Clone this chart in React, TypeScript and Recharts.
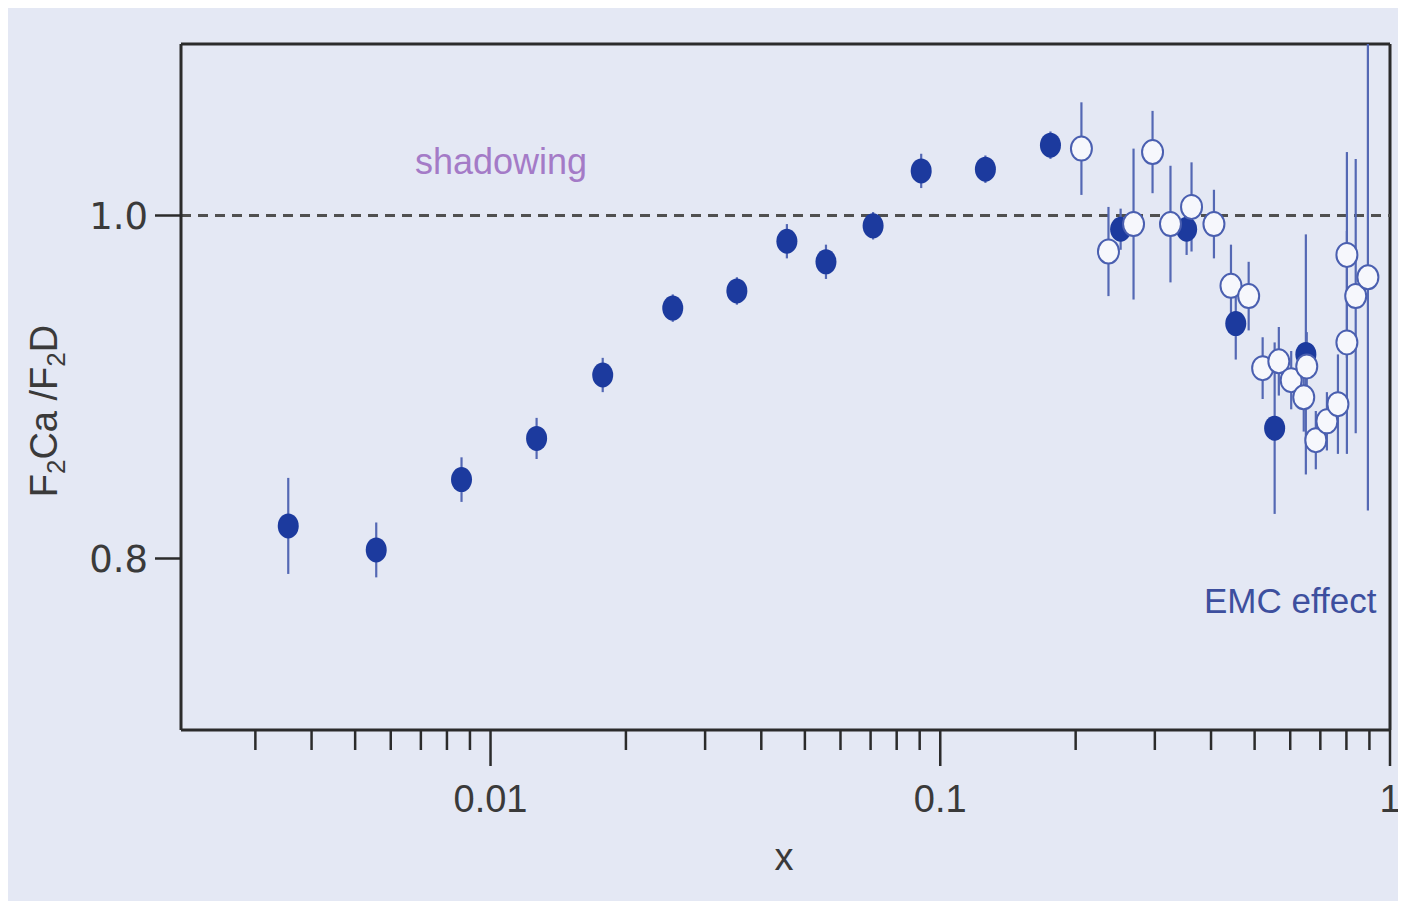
import React from 'react';
import { ComposedChart, Scatter, XAxis, YAxis, ErrorBar, ReferenceLine } from 'recharts';

// filled symbols
const filledX = [0.00355, 0.00557, 0.00862, 0.01266, 0.01776, 0.02542, 0.0353, 0.0456, 0.0557, 0.0709, 0.0907, 0.126, 0.1758, 0.2518, 0.353, 0.454, 0.554, 0.65];
const filledY = [0.819, 0.805, 0.846, 0.870, 0.907, 0.946, 0.956, 0.985, 0.973, 0.994, 1.026, 1.027, 1.041, 0.992, 0.992, 0.937, 0.876, 0.919];
const filledErr = [0.028, 0.016, 0.013, 0.012, 0.010, 0.008, 0.008, 0.010, 0.010, 0.008, 0.010, 0.008, 0.008, 0.012, 0.015, 0.021, 0.050, 0.070];

// open symbols
const openX = [0.206, 0.2366, 0.269, 0.2965, 0.325, 0.362, 0.406, 0.443, 0.485, 0.521, 0.566, 0.603, 0.643, 0.653, 0.684, 0.724, 0.766, 0.802, 0.802, 0.839, 0.893];
const openY = [1.039, 0.979, 0.995, 1.037, 0.995, 1.005, 0.995, 0.959, 0.953, 0.911, 0.915, 0.904, 0.894, 0.912, 0.869, 0.880, 0.890, 0.977, 0.926, 0.953, 0.964];
const openErr = [0.027, 0.026, 0.044, 0.024, 0.034, 0.026, 0.020, 0.024, 0.020, 0.018, 0.020, 0.017, 0.020, 0.020, 0.017, 0.017, 0.029, 0.060, 0.065, 0.080, 0.136];

// axis ticks
const xDomain = [0.00205, 1];
const yDomain = [0.7, 1.1];
const xTicks = [0.003, 0.004, 0.005, 0.006, 0.007, 0.008, 0.009, 0.01, 0.02, 0.03, 0.04, 0.05, 0.06, 0.07, 0.08, 0.09, 0.1, 0.2, 0.3, 0.4, 0.5, 0.6, 0.7, 0.8, 0.9, 1];
const xMajor = [0.01, 0.1, 1];
const xMajorLabels = ['0.01', '0.1', '1'];
const yTicks = [0.8, 1.0];

const filled = filledX.map((x, i) => ({ x, y: filledY[i], err: filledErr[i] }));
const open = openX.map((x, i) => ({ x, y: openY[i], err: openErr[i] }));

const INK = '#2b2b2b';
const FONT = "'Liberation Sans', Arimo, Arial, sans-serif";

function XTick(props: any) {
  const { x, y, payload } = props;
  const k = xMajor.indexOf(payload.value);
  const major = k >= 0;
  return (
    <g>
      <line x1={x} x2={x} y1={y} y2={y + (major ? 36 : 20)} stroke={INK} strokeWidth={2.5} />
      {major && (
        <text x={x} y={y + 82} textAnchor="middle" fontFamily={FONT} fontSize={38} fill="#3a3a3a">
          {xMajorLabels[k]}
        </text>
      )}
    </g>
  );
}

const FilledDot = (p: any) => <ellipse cx={p.cx} cy={p.cy} rx={10.5} ry={12.5} fill="#1c3a9e" />;
const OpenDot = (p: any) => (
  <ellipse cx={p.cx} cy={p.cy} rx={10.5} ry={12} fill="#f6f7fc" stroke="#4a5fb0" strokeWidth={2} />
);

export default function App() {
  return (
    <div style={{ marginLeft: -3, marginTop: -3, width: 1398, height: 896, background: '#e4e8f4' }}>
      <ComposedChart width={1398} height={896} margin={{ top: 39, right: 13, bottom: 41, left: 26 }}>
        <XAxis
          dataKey="x"
          type="number"
          scale="log"
          domain={xDomain}
          allowDataOverflow
          ticks={xTicks}
          tick={<XTick />}
          tickLine={false}
          tickSize={0}
          tickMargin={0}
          height={130}
          interval={0}
          axisLine={{ stroke: INK, strokeWidth: 3 }}
        />
        <YAxis
          dataKey="y"
          type="number"
          domain={yDomain}
          allowDataOverflow
          ticks={yTicks}
          tickFormatter={(v: number) => v.toFixed(1)}
          tick={{ fontFamily: "'DejaVu Sans', sans-serif", fontSize: 37, fill: '#3a3a3a' }}
          tickLine={{ stroke: INK, strokeWidth: 2.5 }}
          tickSize={26}
          tickMargin={7}
          width={150}
          axisLine={{ stroke: INK, strokeWidth: 3 }}
        />
        {/* frame: top and right edges */}
        <ReferenceLine y={yDomain[1]} stroke={INK} strokeWidth={3} />
        <ReferenceLine x={xDomain[1]} stroke={INK} strokeWidth={3} />
        <ReferenceLine y={1} stroke="#505050" strokeWidth={3} strokeDasharray="10 7" />
        <Scatter data={filled} shape={FilledDot} isAnimationActive={false}>
          <ErrorBar dataKey="err" direction="y" width={0} stroke="#5468b4" strokeWidth={2.2} />
        </Scatter>
        <Scatter data={open} shape={OpenDot} isAnimationActive={false}>
          <ErrorBar dataKey="err" direction="y" width={0} stroke="#5468b4" strokeWidth={2.2} />
        </Scatter>
        <text x={410} y={169} fontFamily={FONT} fontSize={36} fill="#a47bc7">shadowing</text>
        <text x={1199} y={608} fontFamily={FONT} fontSize={35} fill="#3d4f9e">EMC effect</text>
        <text x={779} y={865} textAnchor="middle" fontFamily={FONT} fontSize={38} fill="#3a3a3a">x</text>
        <text x={52} y={406} transform="rotate(-90 52 406)" textAnchor="middle" fontFamily={FONT} fontSize={38} fill="#3a3a3a">
          F<tspan fontSize={26} dy={8}>2</tspan>
          <tspan dy={-8}>Ca /F</tspan>
          <tspan fontSize={26} dy={8}>2</tspan>
          <tspan dy={-8}>D</tspan>
        </text>
      </ComposedChart>
    </div>
  );
}
